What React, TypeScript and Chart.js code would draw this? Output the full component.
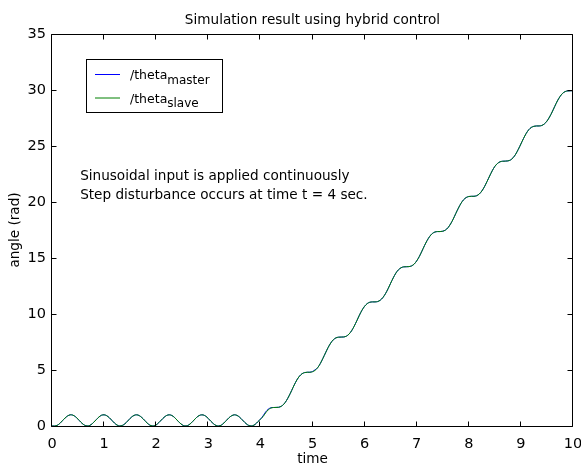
import React, { useEffect, useRef } from "react";
import { Chart, registerables } from "chart.js";

Chart.register(...registerables);

// ---- data ----
const TIME_STEP = 0.05; // seconds between samples, t = 0 .. 10
const THETA_SLAVE = [
  0.0, 0.0, 0.06, 0.23, 0.47, 0.71, 0.9, 1.0, 0.97, 0.83,
  0.61, 0.36, 0.15, 0.02, 0.01, 0.12, 0.33, 0.57, 0.8, 0.96,
  1.0, 0.92, 0.74, 0.5, 0.26, 0.08, 0.0, 0.05, 0.2, 0.43,
  0.68, 0.88, 0.99, 0.98, 0.85, 0.64, 0.39, 0.17, 0.03, 0.01,
  0.1, 0.3, 0.54, 0.77, 0.94, 1.0, 0.94, 0.77, 0.53, 0.29,
  0.1, 0.0, 0.03, 0.18, 0.4, 0.65, 0.86, 0.98, 0.99, 0.88,
  0.67, 0.42, 0.2, 0.04, 0.0, 0.08, 0.27, 0.51, 0.75, 0.92,
  1.0, 0.95, 0.79, 0.56, 0.32, 0.12, 0.01, 0.02, 0.15, 0.37,
  0.61, 0.83, 1.17, 1.44, 1.6, 1.65, 1.66, 1.67, 1.76, 1.95,
  2.27, 2.69, 3.17, 3.67, 4.11, 4.45, 4.67, 4.77, 4.8, 4.8,
  4.84, 4.97, 5.21, 5.58, 6.04, 6.53, 7.01, 7.41, 7.7, 7.87,
  7.93, 7.94, 7.95, 8.02, 8.2, 8.5, 8.91, 9.39, 9.89, 10.34,
  10.69, 10.93, 11.05, 11.08, 11.08, 11.11, 11.23, 11.46, 11.81, 12.25,
  12.75, 13.23, 13.65, 13.95, 14.13, 14.21, 14.22, 14.23, 14.29, 14.45,
  14.74, 15.13, 15.61, 16.11, 16.56, 16.93, 17.19, 17.32, 17.36, 17.36,
  17.39, 17.49, 17.7, 18.04, 18.47, 18.97, 19.45, 19.88, 20.2, 20.4,
  20.49, 20.51, 20.51, 20.56, 20.71, 20.98, 21.36, 21.83, 22.32, 22.79,
  23.18, 23.44, 23.59, 23.64, 23.65, 23.67, 23.75, 23.95, 24.27, 24.7,
  25.18, 25.67, 26.11, 26.45, 26.66, 26.76, 26.79, 26.79, 26.83, 26.97,
  27.22, 27.59, 28.04, 28.54, 29.02, 29.41, 29.7, 29.86, 29.92, 29.93,
  29.94,
];
const THETA_MASTER = [
  0.0, 0.0, 0.06, 0.23, 0.47, 0.71, 0.9, 1.0, 0.97, 0.83,
  0.61, 0.36, 0.15, 0.02, 0.01, 0.12, 0.33, 0.57, 0.8, 0.96,
  1.0, 0.92, 0.74, 0.5, 0.26, 0.08, 0.0, 0.05, 0.2, 0.43,
  0.68, 0.88, 0.99, 0.98, 0.85, 0.64, 0.39, 0.17, 0.03, 0.01,
  0.1, 0.3, 0.54, 0.77, 0.94, 1.0, 0.94, 0.77, 0.53, 0.29,
  0.1, 0.0, 0.03, 0.18, 0.4, 0.65, 0.86, 0.98, 0.99, 0.88,
  0.67, 0.42, 0.2, 0.04, 0.0, 0.08, 0.27, 0.51, 0.75, 0.92,
  1.0, 0.95, 0.79, 0.56, 0.32, 0.12, 0.01, 0.02, 0.15, 0.37,
  0.61, 0.9, 1.25, 1.5, 1.63, 1.65, 1.66, 1.67, 1.76, 1.95,
  2.27, 2.69, 3.17, 3.67, 4.11, 4.45, 4.67, 4.77, 4.8, 4.8,
  4.87, 5.02, 5.21, 5.58, 6.04, 6.53, 7.01, 7.41, 7.7, 7.87,
  7.93, 7.94, 7.95, 8.02, 8.2, 8.5, 8.91, 9.39, 9.89, 10.34,
  10.69, 10.93, 11.05, 11.08, 11.08, 11.11, 11.23, 11.46, 11.81, 12.25,
  12.75, 13.23, 13.65, 13.95, 14.13, 14.21, 14.22, 14.23, 14.29, 14.45,
  14.74, 15.13, 15.61, 16.11, 16.56, 16.93, 17.19, 17.32, 17.36, 17.36,
  17.39, 17.49, 17.7, 18.04, 18.47, 18.97, 19.45, 19.88, 20.2, 20.4,
  20.49, 20.51, 20.51, 20.56, 20.71, 20.98, 21.36, 21.83, 22.32, 22.79,
  23.18, 23.44, 23.59, 23.64, 23.65, 23.67, 23.75, 23.95, 24.27, 24.7,
  25.18, 25.67, 26.11, 26.45, 26.66, 26.76, 26.79, 26.79, 26.83, 26.97,
  27.22, 27.59, 28.04, 28.54, 29.02, 29.41, 29.7, 29.86, 29.92, 29.93,
  29.94,
];
const X_MIN = 0;
const X_MAX = 10;
const X_TICK_STEP = 1;
const Y_MIN = 0;
const Y_MAX = 35;
const Y_TICK_STEP = 5;

const TITLE = "Simulation result using hybrid control";
const X_LABEL = "time";
const Y_LABEL = "angle (rad)";
const SERIES_NAMES = ["/theta", "/theta"];
const SERIES_SUBSCRIPTS = ["master", "slave"];
const SERIES_COLORS = ["rgb(0,0,255)", "rgb(0,128,0)"];
const NOTE_LINES = [
  "Sinusoidal input is applied continuously",
  "Step disturbance occurs at time t = 4 sec.",
];
const NOTE_AT = { t: 0.54, y: 22 };

const FONT = "DejaVu Sans";

const decorPlugin = {
  id: "matlabDecor",
  afterDraw(chart: any) {
    const { ctx, chartArea, scales } = chart;
    const { left, right, top, bottom } = chartArea;
    const xs = scales.x;
    const ys = scales.y;
    ctx.save();
    ctx.strokeStyle = "#000";
    ctx.lineWidth = 1;
    const L = Math.round(left) - 0.5;
    const R = Math.round(right) - 0.5;
    const T = Math.round(top) + 0.5;
    const B = Math.round(bottom) + 0.5;
    ctx.beginPath();
    ctx.rect(L, T, R - L, B - T);
    xs.ticks.forEach((tk: any) => {
      const px = Math.round(xs.getPixelForValue(tk.value)) - 0.5;
      ctx.moveTo(px, B);
      ctx.lineTo(px, B - 5);
      ctx.moveTo(px, T);
      ctx.lineTo(px, T + 5);
    });
    ys.ticks.forEach((tk: any) => {
      const py = Math.round(ys.getPixelForValue(tk.value)) + 0.5;
      ctx.moveTo(L, py);
      ctx.lineTo(L + 5, py);
      ctx.moveTo(R, py);
      ctx.lineTo(R - 5, py);
    });
    ctx.stroke();

    ctx.fillStyle = "#000";
    // title
    ctx.font = `13.6px "${FONT}"`;
    ctx.textAlign = "center";
    ctx.textBaseline = "alphabetic";
    ctx.fillText(TITLE, (left + right) / 2, 23.5);

    // note text
    ctx.textAlign = "left";
    const nx = xs.getPixelForValue(NOTE_AT.t);
    const ny = ys.getPixelForValue(NOTE_AT.y);
    NOTE_LINES.forEach((line, i) => {
      ctx.fillText(line, nx, ny + i * 19.5);
    });

    // legend box
    const bx = 86.5, by = 59.5, bw = 136, bh = 53;
    ctx.fillStyle = "#fff";
    ctx.fillRect(bx, by, bw, bh);
    ctx.strokeStyle = "#000";
    ctx.strokeRect(bx, by, bw, bh);
    chart.data.datasets.forEach((ds: any, i: number) => {
      const ly = 74.5 + i * 23.5;
      ctx.strokeStyle = ds.borderColor;
      ctx.beginPath();
      ctx.moveTo(95, ly);
      ctx.lineTo(120, ly);
      ctx.stroke();
      ctx.fillStyle = "#000";
      ctx.font = `12.5px "${FONT}"`;
      ctx.fillText(SERIES_NAMES[i], 130, ly + 4.5);
      const w = ctx.measureText(SERIES_NAMES[i]).width;
      ctx.font = `12px "${FONT}"`;
      ctx.fillText(SERIES_SUBSCRIPTS[i], 130 + w, ly + 9);
    });
    ctx.restore();
  },
};

export default function App() {
  const ref = useRef<HTMLCanvasElement | null>(null);
  useEffect(() => {
    if (!ref.current) return;
    const master = THETA_MASTER.map((v, i) => ({ x: i * TIME_STEP, y: v }));
    const slave = THETA_SLAVE.map((v, i) => ({ x: i * TIME_STEP, y: v }));
    const chart = new Chart(ref.current, {
      type: "line",
      data: {
        datasets: [
          {
            label: SERIES_NAMES[0] + "_" + SERIES_SUBSCRIPTS[0],
            data: master,
            borderColor: SERIES_COLORS[0],
            borderWidth: 1,
            pointRadius: 0,
            tension: 0.3,
            order: 2,
          },
          {
            label: SERIES_NAMES[1] + "_" + SERIES_SUBSCRIPTS[1],
            data: slave,
            borderColor: SERIES_COLORS[1],
            borderWidth: 1,
            pointRadius: 0,
            tension: 0.3,
            order: 1,
          },
        ],
      },
      options: {
        animation: false,
        responsive: false,
        events: [],
        layout: { padding: { top: 34, right: 8, left: 0, bottom: 0 } },
        plugins: {
          legend: { display: false },
          title: { display: false },
          tooltip: { enabled: false },
        },
        scales: {
          x: {
            type: "linear",
            min: X_MIN,
            max: X_MAX,
            grid: { display: false, drawTicks: false },
            border: { display: false },
            ticks: {
              stepSize: X_TICK_STEP,
              color: "#000",
              font: { family: FONT, size: 14.5 },
              padding: 10,
              maxRotation: 0,
              autoSkip: false,
            },
            title: {
              display: true,
              text: X_LABEL,
              color: "#000",
              font: { family: FONT, size: 13.6 },
              padding: { top: 0, bottom: 0 },
            },
            afterFit(scale: any) {
              scale.height = 42;
              scale.paddingLeft = 0;
              scale.paddingRight = 0;
            },
          },
          y: {
            type: "linear",
            min: Y_MIN,
            max: Y_MAX,
            grid: { display: false, drawTicks: false },
            border: { display: false },
            ticks: {
              stepSize: Y_TICK_STEP,
              color: "#000",
              font: { family: FONT, size: 14.5 },
              padding: 6,
            },
            title: {
              display: true,
              text: Y_LABEL,
              color: "#000",
              font: { family: FONT, size: 13.6 },
              padding: { top: 7, bottom: 0 },
            },
            afterFit(scale: any) {
              scale.width = 52;
              scale.paddingTop = 0;
              scale.paddingBottom = 0;
            },
          },
        },
      },
      plugins: [decorPlugin],
    });
    return () => chart.destroy();
  }, []);
  return (
    <div style={{ position: "fixed", left: 0, top: 0, width: 581, height: 468, background: "#fff" }}>
      <canvas ref={ref} width={581} height={468} />
    </div>
  );
}
